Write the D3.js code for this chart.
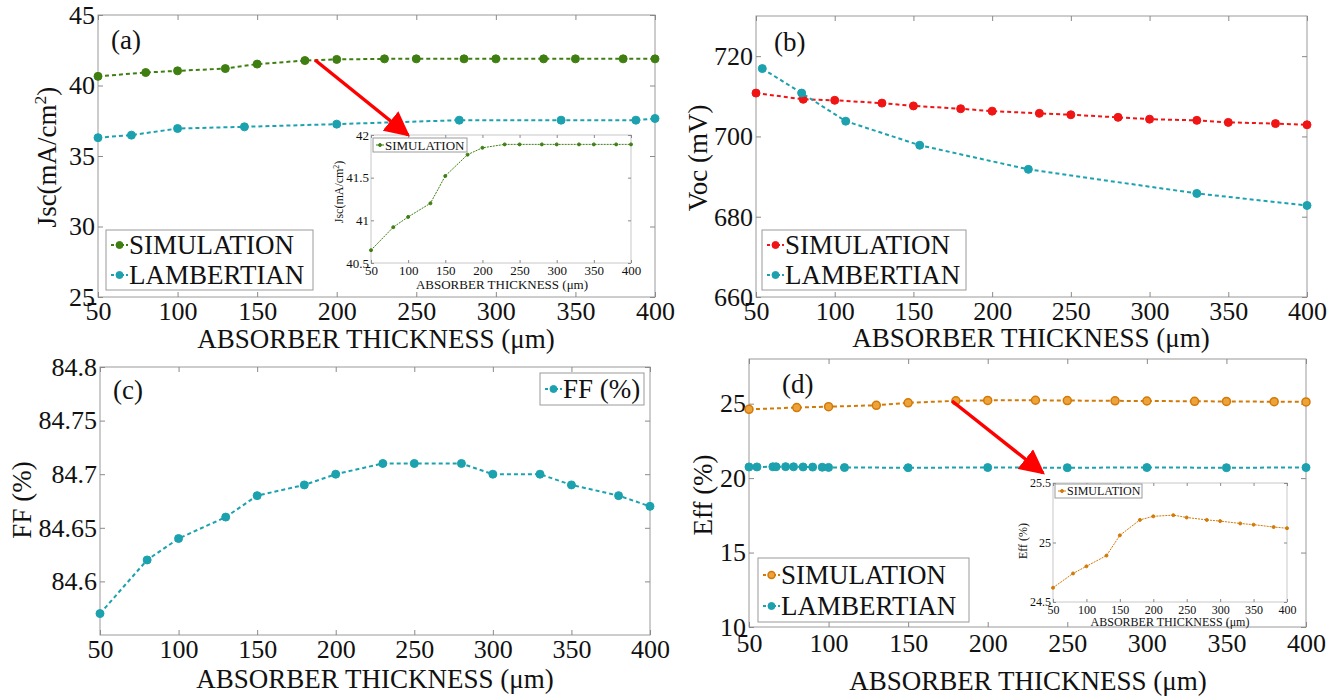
<!DOCTYPE html>
<html>
<head>
<meta charset="utf-8">
<script src="https://cdn.jsdelivr.net/npm/d3@7"></script>
<style>
  body { margin: 0; background: #fff; }
  svg text { font-family: 'Liberation Serif', Tinos, 'Times New Roman', Times, 'DejaVu Serif', serif; fill: #111; }
</style>
</head>
<body>
<div id="chart"></div>
<script>
// ---- data ----
const thickness = [50, 80, 100, 130, 150, 180, 200, 230, 250, 280, 300, 330, 350, 380, 400];
const xTicks = [50, 100, 150, 200, 250, 300, 350, 400];

// (a) Jsc (mA/cm2)
const jscSimulation = [40.65, 40.92, 41.04, 41.2, 41.52, 41.77, 41.85, 41.89, 41.89, 41.89, 41.89, 41.89, 41.89, 41.89, 41.89];
const jscLambertThickness = [50, 71, 100, 142, 200, 277, 341, 388, 400];
const jscLambertian = [36.3, 36.48, 36.95, 37.07, 37.26, 37.54, 37.54, 37.54, 37.66];
const jscTicks = [25, 30, 35, 40, 45];
const jscInsetTicks = [40.5, 41, 41.5, 42];

// (b) Voc (mV)
const vocSimulation = [710.8, 709.25, 709.0, 708.3, 707.6, 706.9, 706.3, 705.75, 705.4, 704.75, 704.3, 704.0, 703.5, 703.2, 702.9];
const vocLambertThickness = [54, 79, 107, 154, 223, 330, 400];
const vocLambertian = [716.9, 710.8, 703.8, 697.8, 691.8, 685.8, 682.8];
const vocTicks = [660, 680, 700, 720];

// (c) FF (%)
const ffValues = [84.57, 84.62, 84.64, 84.66, 84.68, 84.69, 84.70, 84.71, 84.71, 84.71, 84.70, 84.70, 84.69, 84.68, 84.67];
const ffTicks = [84.6, 84.65, 84.7, 84.75, 84.8];

// (d) Eff (%)
const effSimulation = [24.62, 24.74, 24.80, 24.89, 25.06, 25.19, 25.22, 25.23, 25.21, 25.19, 25.18, 25.16, 25.15, 25.13, 25.12];
const effLambertThickness = [50, 55, 65, 67, 73, 78, 84, 90, 96, 100, 110, 150, 200, 250, 300, 350, 400];
const effLambertian = [20.75, 20.75, 20.76, 20.76, 20.77, 20.76, 20.75, 20.74, 20.73, 20.72, 20.71, 20.7, 20.71, 20.7, 20.71, 20.7, 20.71];
const effTicks = [10, 15, 20, 25];
const effInsetTicks = [24.5, 25, 25.5];

const GREEN = '#3f7f12', TEAL = '#1ba2ae', RED = '#f01414', ORANGE = '#d27a08', ORANGE_FILL = '#eea23a';
const SERIF = "'Liberation Serif', Tinos, 'Times New Roman', Times, 'DejaVu Serif', serif";
const xLabel = 'ABSORBER THICKNESS (\u03bcm)';

const svg = d3.select('#chart').append('svg')
  .attr('width', 1341)
  .attr('height', 699)
  .attr('font-family', SERIF);

svg.append('defs').append('marker')
  .attr('id', 'arrowhead')
  .attr('viewBox', '0 0 10 10')
  .attr('refX', 9).attr('refY', 5)
  .attr('markerUnits', 'userSpaceOnUse')
  .attr('markerWidth', 25).attr('markerHeight', 25)
  .attr('orient', 'auto')
  .append('path')
  .attr('d', 'M0,0 L10,5 L0,10 Z')
  .attr('fill', '#ff0000');

// draws one framed MATLAB-like axes box; returns the scales
function drawAxes(o) {
  const g = svg.append('g');
  const x = d3.scaleLinear().domain([50, 400]).range([o.left, o.right]);
  const y = d3.scaleLinear().domain(o.yDomain).range([o.bottom, o.top]);

  g.append('rect')
    .attr('x', o.left).attr('y', o.top)
    .attr('width', o.right - o.left).attr('height', o.bottom - o.top)
    .attr('fill', '#fff')
    .attr('stroke', o.frame || '#9a9a9a')
    .attr('stroke-width', 1);

  const ts = o.tick || 5;
  const fs = o.fontSize;

  g.append('g')
    .attr('transform', `translate(0,${o.bottom})`)
    .call(d3.axisBottom(x).tickValues(xTicks).tickSize(-ts).tickPadding(o.xPad).tickFormat(d3.format('d')));
  g.append('g')
    .attr('transform', `translate(${o.left},0)`)
    .call(d3.axisLeft(y).tickValues(o.yTicks).tickSize(-ts).tickPadding(o.yPad).tickFormat(d => String(d)));
  g.append('g')
    .attr('transform', `translate(0,${o.top})`)
    .call(d3.axisTop(x).tickValues(xTicks).tickSize(-ts).tickFormat(''));
  g.append('g')
    .attr('transform', `translate(${o.right},0)`)
    .call(d3.axisRight(y).tickValues(o.yTicks).tickSize(-ts).tickFormat(''));

  g.selectAll('g').attr('font-family', SERIF).attr('font-size', fs);
  g.selectAll('.domain').remove();
  g.selectAll('.tick line').attr('stroke', '#8a8a8a');
  g.selectAll('.tick text').attr('fill', '#111');

  return { g, x, y };
}

function drawSeries(ax, xs, ys, color, opt) {
  const pts = xs.map((d, i) => [d, ys[i]]);
  const line = d3.line().x(d => ax.x(d[0])).y(d => ax.y(d[1]));
  ax.g.append('path')
    .datum(pts)
    .attr('d', line)
    .attr('fill', 'none')
    .attr('stroke', color)
    .attr('stroke-width', opt.width)
    .attr('stroke-dasharray', opt.dash);
  ax.g.selectAll(null)
    .data(pts)
    .enter().append('circle')
    .attr('cx', d => ax.x(d[0]))
    .attr('cy', d => ax.y(d[1]))
    .attr('r', opt.r)
    .attr('fill', opt.fill || color)
    .attr('stroke', color)
    .attr('stroke-width', opt.strokeWidth || 1);
}

function legend(box, items, fs, sw) {
  const g = svg.append('g');
  g.append('rect')
    .attr('x', box.x).attr('y', box.y)
    .attr('width', box.w).attr('height', box.h)
    .attr('fill', '#fff').attr('stroke', '#9a9a9a').attr('stroke-width', 1);
  items.forEach((it, i) => {
    const cy = box.y + box.rowTop + i * box.rowGap;
    g.append('line')
      .attr('x1', box.x + box.pad).attr('x2', box.x + box.pad + box.lineLen)
      .attr('y1', cy).attr('y2', cy)
      .attr('stroke', it.color).attr('stroke-width', sw)
      .attr('stroke-dasharray', box.dash);
    g.append('circle')
      .attr('cx', box.x + box.pad + box.lineLen / 2).attr('cy', cy)
      .attr('r', box.r)
      .attr('fill', it.fill || it.color).attr('stroke', it.color)
      .attr('stroke-width', it.fill ? 1.5 : 1);
    g.append('text')
      .attr('x', box.x + box.pad + box.lineLen + 1)
      .attr('y', cy)
      .attr('dy', '0.35em')
      .style('font-size', fs + 'px')
      .text(it.label);
  });
}

function sideLabel(x, y, fs, build) {
  const t = svg.append('text')
    .attr('transform', `translate(${x},${y}) rotate(-90)`)
    .attr('text-anchor', 'middle')
    .attr('dy', '0.35em')
    .style('font-size', fs + 'px');
  build(t);
}

function jscLabel(t, fs) {
  t.append('tspan').text('Jsc(mA/cm');
  t.append('tspan').attr('baseline-shift', 'super').style('font-size', (fs * 0.65) + 'px').text('2');
  t.append('tspan').text(')');
}

function arrow(x1, y1, x2, y2) {
  svg.append('line')
    .attr('x1', x1).attr('y1', y1).attr('x2', x2).attr('y2', y2)
    .attr('stroke', '#ff0000').attr('stroke-width', 3.5)
    .attr('marker-end', 'url(#arrowhead)');
}

const FS = 26;
const mainLine = { width: 2, dash: '4,3', r: 4 };

// ---------- (a) ----------
const axA = drawAxes({ left: 98, right: 655, top: 15, bottom: 297, yDomain: [25, 45], yTicks: jscTicks, fontSize: FS, xPad: 5, yPad: 3 });
drawSeries(axA, jscLambertThickness, jscLambertian, TEAL, mainLine);
drawSeries(axA, thickness, jscSimulation, GREEN, mainLine);
svg.append('text').attr('x', 111).attr('y', 49).style('font-size', '27px').text('(a)');
svg.append('text').attr('x', 376).attr('y', 348).attr('text-anchor', 'middle').style('font-size', '27px').text(xLabel);
sideLabel(47, 157, 27, t => jscLabel(t, 27));
legend({ x: 106, y: 230, w: 207, h: 60, rowTop: 15, rowGap: 30, pad: 5, lineLen: 17, r: 3.5, dash: '3,2' },
  [{ label: 'SIMULATION', color: GREEN }, { label: 'LAMBERTIAN', color: TEAL }], 27, 2);

// inset (a)
const inA = drawAxes({ left: 371, right: 631, top: 135, bottom: 263, yDomain: [40.5, 42], yTicks: jscInsetTicks, fontSize: 13, xPad: 3, yPad: 2, tick: 3, frame: '#c8c8c8' });
drawSeries(inA, thickness, jscSimulation, GREEN, { width: 1, dash: '2,1', r: 1.5 });
svg.append('text').attr('x', 502).attr('y', 289).attr('text-anchor', 'middle').style('font-size', '13px').text(xLabel);
sideLabel(339, 192, 12, t => jscLabel(t, 12));
legend({ x: 373, y: 138, w: 94, h: 14, rowTop: 7, rowGap: 0, pad: 3, lineLen: 8, r: 1.5, dash: '2,1' },
  [{ label: 'SIMULATION', color: GREEN }], 13, 1);
arrow(315, 60, 408, 135);

// ---------- (b) ----------
const axB = drawAxes({ left: 756, right: 1307, top: 16, bottom: 297, yDomain: [660, 730], yTicks: vocTicks, fontSize: FS, xPad: 5, yPad: 3 });
drawSeries(axB, thickness, vocSimulation, RED, mainLine);
drawSeries(axB, vocLambertThickness, vocLambertian, TEAL, mainLine);
svg.append('text').attr('x', 774).attr('y', 51).style('font-size', '27px').text('(b)');
svg.append('text').attr('x', 1031).attr('y', 347).attr('text-anchor', 'middle').style('font-size', '27px').text(xLabel);
sideLabel(698, 158, 27, t => t.text('Voc (mV)'));
legend({ x: 762, y: 230, w: 204, h: 60, rowTop: 15, rowGap: 30, pad: 5, lineLen: 17, r: 3.5, dash: '3,2' },
  [{ label: 'SIMULATION', color: RED }, { label: 'LAMBERTIAN', color: TEAL }], 27, 2);

// ---------- (c) ----------
const axC = drawAxes({ left: 100, right: 650, top: 367, bottom: 635, yDomain: [84.55, 84.8], yTicks: ffTicks, fontSize: FS, xPad: 5, yPad: 3 });
drawSeries(axC, thickness, ffValues, TEAL, mainLine);
svg.append('text').attr('x', 113).attr('y', 399).style('font-size', '27px').text('(c)');
svg.append('text').attr('x', 375).attr('y', 688).attr('text-anchor', 'middle').style('font-size', '27px').text(xLabel);
sideLabel(22, 500, 27, t => t.text('FF (%)'));
legend({ x: 540, y: 373, w: 104, h: 32, rowTop: 16, rowGap: 0, pad: 5, lineLen: 17, r: 3.5, dash: '3,2' },
  [{ label: 'FF (%)', color: TEAL }], 27, 2);

// ---------- (d) ----------
const axD = drawAxes({ left: 749, right: 1306, top: 359, bottom: 627, yDomain: [10, 28], yTicks: effTicks, fontSize: FS, xPad: 7, yPad: 3 });
drawSeries(axD, effLambertThickness, effLambertian, TEAL, mainLine);
drawSeries(axD, thickness, effSimulation, ORANGE, Object.assign({}, mainLine, { fill: ORANGE_FILL, strokeWidth: 1.5 }));
svg.append('text').attr('x', 782).attr('y', 393).style('font-size', '27px').text('(d)');
svg.append('text').attr('x', 1028).attr('y', 690).attr('text-anchor', 'middle').style('font-size', '27px').text(xLabel);
sideLabel(703, 495, 27, t => t.text('Eff (%)'));
legend({ x: 758, y: 558, w: 211, h: 64, rowTop: 17, rowGap: 31, pad: 5, lineLen: 17, r: 3.5, dash: '3,2' },
  [{ label: 'SIMULATION', color: ORANGE, fill: ORANGE_FILL }, { label: 'LAMBERTIAN', color: TEAL }], 27, 2);

// inset (d)
const inD = drawAxes({ left: 1053, right: 1287, top: 483, bottom: 602, yDomain: [24.5, 25.5], yTicks: effInsetTicks, fontSize: 12, xPad: 3, yPad: 2, tick: 3, frame: '#c8c8c8' });
drawSeries(inD, thickness, effSimulation, ORANGE, { width: 1, dash: '2,1', r: 1.5 });
svg.append('text').attr('x', 1170).attr('y', 626).attr('text-anchor', 'middle').style('font-size', '12px').text(xLabel);
sideLabel(1023, 541, 12, t => t.text('Eff (%)'));
legend({ x: 1055, y: 484, w: 87, h: 14, rowTop: 7, rowGap: 0, pad: 3, lineLen: 8, r: 1.5, dash: '2,1' },
  [{ label: 'SIMULATION', color: ORANGE }], 12, 1);
arrow(952, 401, 1043, 473);
</script>
</body>
</html>
